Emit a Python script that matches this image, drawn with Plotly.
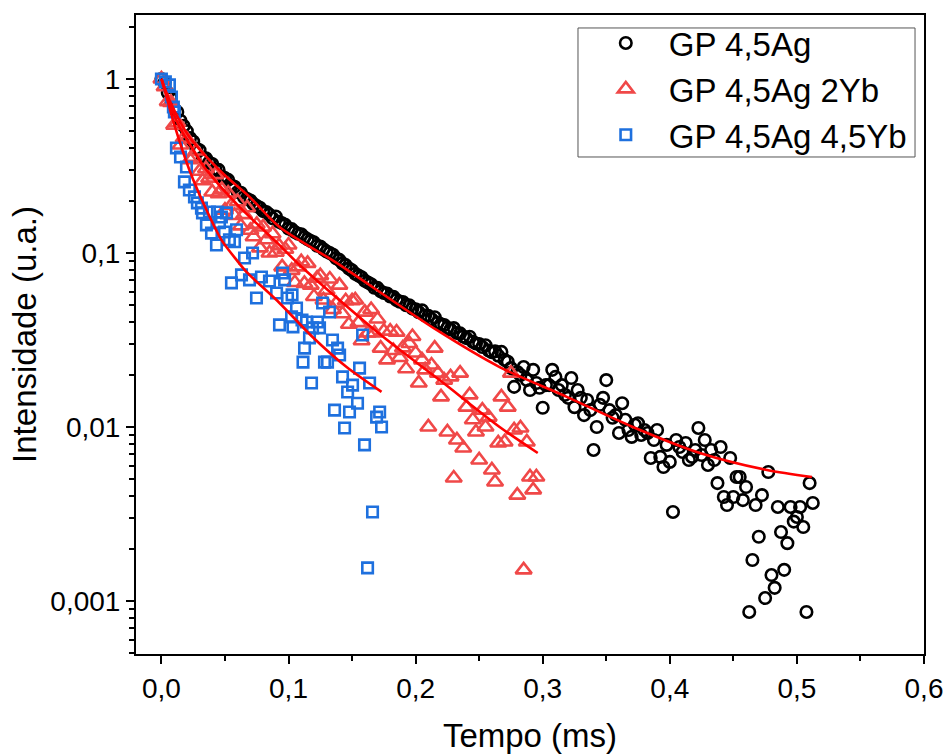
import numpy as np
import plotly.graph_objects as go

# Sampling interval of the decay curves (ms)
DT = 0.0025

# GP 4,5Ag -- normalised intensity on a uniform time grid
ag_I = [
    1.00, 0.955, 0.832, 0.776, 0.676, 0.646, 0.575, 0.537, 0.501, 0.457,
    0.437, 0.398, 0.389, 0.355, 0.350, 0.331, 0.324, 0.302, 0.300, 0.275,
    0.269, 0.263, 0.245, 0.240, 0.224, 0.222, 0.209, 0.204, 0.200, 0.191,
    0.186, 0.182, 0.174, 0.172, 0.166, 0.158, 0.162, 0.151, 0.148, 0.145,
    0.138, 0.137, 0.132, 0.129, 0.128, 0.123, 0.120, 0.117, 0.115, 0.110,
    0.109, 0.105, 0.102, 0.100, 0.0977, 0.0933, 0.0912, 0.0871, 0.0851, 0.0813,
    0.0794, 0.0759, 0.0741, 0.0724, 0.0692, 0.0676, 0.0661, 0.0631, 0.0630, 0.0603,
    0.0589, 0.0585, 0.0562, 0.0560, 0.0537, 0.0525, 0.0522, 0.0501, 0.0500, 0.0479,
    0.0475, 0.0457, 0.0468, 0.0437, 0.0435, 0.0417, 0.0427, 0.0398, 0.0389, 0.0385,
    0.0372, 0.0363, 0.0370, 0.0347, 0.0345, 0.0331, 0.0324, 0.0330, 0.0309, 0.0302,
    0.0300, 0.0288, 0.0295, 0.0275, 0.0269, 0.0272, 0.0257, 0.0270, 0.0243, 0.0237,
    0.0218, 0.0170, 0.0207, 0.0199, 0.0221, 0.0186, 0.0163, 0.0213, 0.0179, 0.0168,
    0.0129, 0.0174, 0.0174, 0.0213, 0.0194, 0.0163, 0.0174, 0.0153, 0.0147, 0.0191,
    0.0130, 0.0163, 0.0147, 0.0117, 0.0143, 0.0125, 0.00738, 0.0100, 0.0134, 0.0147,
    0.0186, 0.0125, 0.0113, 0.0117, 0.00924, 0.0137, 0.0110, 0.00961, 0.00877, 0.0103,
    0.0105, 0.00900, 0.00961, 0.00924, 0.00664, 0.00842, 0.00961, 0.00673, 0.00589, 0.00789,
    0.00630, 0.00325, 0.00842, 0.00767, 0.00718, 0.00809, 0.00646, 0.00673, 0.00738, 0.00987,
    0.00690, 0.00842, 0.00605, 0.00738, 0.00646, 0.00476, 0.00767, 0.00396, 0.00356, 0.00664,
    0.00396, 0.00516, 0.00516, 0.00380, 0.00452, 0.000865, 0.00172, 0.00356, 0.00234, 0.00406,
    0.00104, 0.00551, 0.00141, 0.00119, 0.00347, 0.00249, 0.00151, 0.00215, 0.00347, 0.00286,
    0.00304, 0.00347, 0.00266, 0.000865, 0.00476, 0.00366,
]

# GP 4,5Ag 2Yb
yb2_I = [
    1.00, 0.902, 0.741, 0.733, 0.543, 0.562, 0.417, 0.457, 0.452, 0.343,
    0.355, 0.385, 0.295, 0.260, 0.305, 0.269, 0.224, 0.282, 0.219, 0.232,
    0.176, 0.221, 0.188, 0.164, 0.197, 0.143, 0.166, 0.182, 0.135, 0.124,
    0.146, 0.107, 0.141, 0.119, 0.100, 0.129, 0.101, 0.110, 0.0832, 0.105,
    0.111, 0.0794, 0.0676, 0.0832, 0.0891, 0.0668, 0.0871, 0.0653, 0.0562, 0.0716,
    0.0741, 0.0537, 0.0610, 0.0708, 0.0473, 0.0513, 0.0653, 0.0447, 0.0531, 0.0389,
    0.0531, 0.0537, 0.0398, 0.0313, 0.0457, 0.0347, 0.0473, 0.0347, 0.0417, 0.0284,
    0.0355, 0.0243, 0.0355, 0.0275, 0.0351, 0.0251, 0.0285, 0.0216, 0.0302, 0.0331,
    0.0266, 0.0179, 0.0243, 0.0213, 0.0100, 0.0227, 0.0284, 0.0204, 0.0149, 0.0186,
    0.00936, 0.0194, 0.00509, 0.00842, 0.0204, 0.00757, 0.0130, 0.0153, 0.0110, 0.00936,
    0.00646, 0.0125, 0.0100, 0.0114, 0.00566, 0.00483, 0.00809, 0.0149, 0.00820, 0.0130,
    0.0204, 0.00961, 0.00406, 0.00987, 0.00151, 0.00820, 0.00516, 0.00435, 0.00516,
]

# GP 4,5Ag 4,5Yb (time, intensity)
yb45_t = [
    0.0, 0.0031, 0.0063, 0.0079, 0.0094, 0.0102, 0.0118, 0.0150, 0.0181, 0.0197,
    0.0220, 0.0260, 0.0283, 0.0315, 0.0323, 0.0354, 0.0378, 0.0394, 0.0433, 0.0441,
    0.0457, 0.0472, 0.0496, 0.0512, 0.0535, 0.0551, 0.0575, 0.0591, 0.0630, 0.0654,
    0.0693, 0.0717, 0.0748, 0.0787, 0.0850, 0.0906, 0.0929, 0.0953, 0.0969, 0.0992,
    0.1024, 0.1028, 0.1035, 0.1063, 0.1106, 0.1114, 0.1126, 0.1142, 0.1165, 0.1181,
    0.1189, 0.1228, 0.1244, 0.1268, 0.1283, 0.1307, 0.1323, 0.1346, 0.1362, 0.1386,
    0.1402, 0.1425, 0.1441, 0.1465, 0.1480, 0.1504, 0.1543, 0.1559, 0.1583, 0.1598,
    0.1622, 0.1638, 0.1661, 0.1693, 0.1717, 0.1732,
]
yb45_I = [
    1.00, 0.962, 0.924, 0.788, 0.690, 0.646, 0.401, 0.356, 0.256, 0.312,
    0.230, 0.210, 0.194, 0.181, 0.170, 0.145, 0.172, 0.130, 0.111, 0.172,
    0.149, 0.161, 0.132, 0.170, 0.119, 0.0673, 0.116, 0.136, 0.0748, 0.0936,
    0.0700, 0.100, 0.0551, 0.0728, 0.0690, 0.0589, 0.0386, 0.0767, 0.0700, 0.0551,
    0.0429, 0.0574, 0.0376, 0.0483, 0.0412, 0.0236, 0.0284, 0.0401, 0.0325, 0.0179,
    0.0371, 0.0401, 0.0371, 0.0516, 0.0236, 0.0236, 0.0458, 0.0316, 0.0125, 0.0284,
    0.0259, 0.0194, 0.00987, 0.0159, 0.0122, 0.0174, 0.0137, 0.0218, 0.0338, 0.00789,
    0.00155, 0.0179, 0.00325, 0.0114, 0.0122, 0.0100,
]

# Fitted decay curves (time, intensity)
fit_ag_t = [0.0, 0.0063, 0.022, 0.048, 0.0693, 0.0929, 0.1378, 0.2165, 0.2661,
            0.3189, 0.3709, 0.4236, 0.4764, 0.5118]
fit_ag_I = [1.0, 0.757, 0.464, 0.288, 0.210, 0.141, 0.0877, 0.0361, 0.0221,
            0.0149, 0.0100, 0.00709, 0.00566, 0.00516]
fit_yb2_t = [0.0, 0.0063, 0.0142, 0.026, 0.0354, 0.0614, 0.0929, 0.1087, 0.1717,
             0.2189, 0.2661, 0.2961]
fit_yb2_I = [1.0, 0.728, 0.530, 0.380, 0.300, 0.184, 0.111, 0.0853, 0.0342,
             0.0186, 0.0100, 0.00709]
fit_yb45_t = [0.0, 0.0047, 0.0102, 0.022, 0.0354, 0.0472, 0.0591, 0.0669, 0.0929,
              0.1189, 0.1457, 0.1732]
fit_yb45_I = [1.0, 0.757, 0.544, 0.300, 0.177, 0.119, 0.0912, 0.0778, 0.0516,
              0.0329, 0.0221, 0.0159]

x_ticks = [0.0, 0.1, 0.2, 0.3, 0.4, 0.5, 0.6]
x_ticktext = ["0,0", "0,1", "0,2", "0,3", "0,4", "0,5", "0,6"]
y_ticks = [0.001, 0.01, 0.1, 1]
y_ticktext = ["0,001", "0,01", "0,1", "1"]

ag_t = np.arange(len(ag_I)) * DT
yb2_t = np.arange(len(yb2_I)) * DT

FONT = "Arial, 'Liberation Sans', sans-serif"
RED_PTS = "rgb(240,72,72)"
BLUE_PTS = "rgb(30,112,222)"
FIT = "rgb(255,0,0)"

fig = go.Figure()
fig.add_trace(go.Scatter(
    x=ag_t, y=ag_I, mode="markers", name="GP 4,5Ag",
    marker=dict(symbol="circle-open", size=11.5, color="black", line=dict(width=2.6)),
))
fig.add_trace(go.Scatter(
    x=yb2_t, y=yb2_I, mode="markers", name="GP 4,5Ag 2Yb",
    marker=dict(symbol="triangle-up-open", size=14, color=RED_PTS, line=dict(width=2.6)),
))
fig.add_trace(go.Scatter(
    x=yb45_t, y=yb45_I, mode="markers", name="GP 4,5Ag 4,5Yb",
    marker=dict(symbol="square-open", size=10.5, color=BLUE_PTS, line=dict(width=2.6)),
))
for ft, fI in [(fit_ag_t, fit_ag_I), (fit_yb2_t, fit_yb2_I), (fit_yb45_t, fit_yb45_I)]:
    fig.add_trace(go.Scatter(
        x=ft, y=fI, mode="lines", showlegend=False, hoverinfo="skip",
        line=dict(color=FIT, width=2.6, shape="spline", smoothing=0.8),
    ))

# minor tick positions
x_minor = [0.05, 0.15, 0.25, 0.35, 0.45, 0.55]
y_minor = [k * 10.0 ** d for d in range(-4, 1) for k in range(2, 10)]

axis_common = dict(
    showgrid=False, zeroline=False, showline=True, linewidth=2, linecolor="black",
    mirror=True, ticks="outside", ticklen=8, tickwidth=2, tickcolor="black",
    tickfont=dict(family=FONT, size=28, color="black"), automargin=False,
)

fig.update_layout(
    width=944, height=754,
    margin=dict(l=136, r=20, t=15, b=100),
    paper_bgcolor="white", plot_bgcolor="white",
    font=dict(family=FONT, color="black"),
    xaxis=dict(
        **axis_common,
        range=[-0.02, 0.6],
        tickmode="array", tickvals=x_ticks, ticktext=x_ticktext,
        minor=dict(tickmode="array", tickvals=x_minor, ticks="outside",
                   ticklen=5, tickwidth=2, tickcolor="black"),
        title=dict(text="Tempo (ms)", font=dict(family=FONT, size=33), standoff=24),
    ),
    yaxis=dict(
        **axis_common,
        type="log",
        range=[np.log10(0.000496), np.log10(2.33)],
        tickmode="array", tickvals=y_ticks, ticktext=y_ticktext,
        minor=dict(tickmode="array", tickvals=y_minor, ticks="outside",
                   ticklen=5, tickwidth=2, tickcolor="black"),
        title=dict(text="Intensidade (u.a.)", font=dict(family=FONT, size=33), standoff=4),
    ),
    legend=dict(
        x=0.567, y=1.0, xanchor="left", yanchor="top",
        bgcolor="rgba(0,0,0,0)", borderwidth=0,
        font=dict(family=FONT, size=33, color="black"),
        itemwidth=76, tracegroupgap=0,
    ),
    # legend frame
    shapes=[dict(
        type="rect", xref="paper", yref="paper",
        x0=0.5609, x1=0.9886, y0=0.7778, y1=0.9797,
        line=dict(color="#555555", width=1), fillcolor="white", layer="below",
    )],
    showlegend=True,
)

fig.write_html("out.html")
